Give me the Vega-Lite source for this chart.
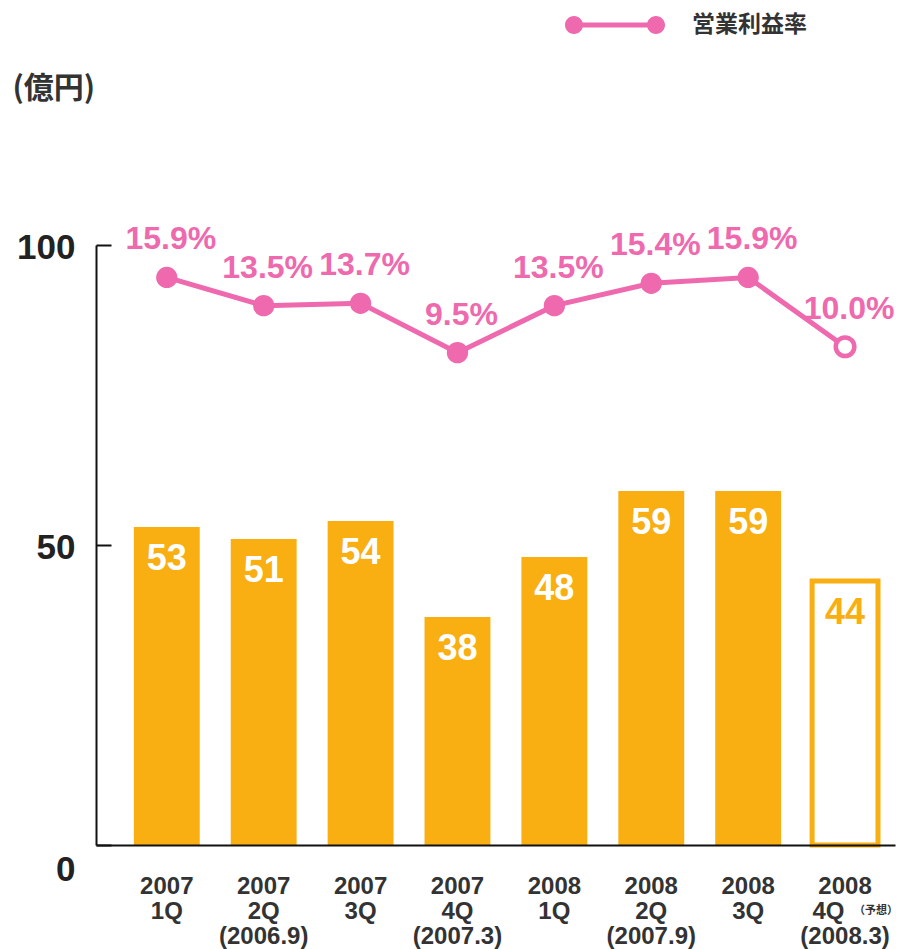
{
  "$schema": "https://vega.github.io/schema/vega-lite/v6.json",
  "autosize": {"type": "none"},
  "padding": {"left": 96, "top": 245, "right": 5, "bottom": 104},
  "width": 799,
  "height": 600,
  "background": "white",
  "config": {"view": {"stroke": null}, "font": "Liberation Sans"},
  "data": {
    "values": [
      {"q": "2007|1Q", "v": 53, "m": 0.159, "f": false},
      {"q": "2007|2Q|(2006.9)", "v": 51, "m": 0.135, "f": false},
      {"q": "2007|3Q", "v": 54, "m": 0.137, "f": false},
      {"q": "2007|4Q|(2007.3)", "v": 38, "m": 0.095, "f": false},
      {"q": "2008|1Q", "v": 48, "m": 0.135, "f": false},
      {"q": "2008|2Q|(2007.9)", "v": 59, "m": 0.154, "f": false},
      {"q": "2008|3Q", "v": 59, "m": 0.159, "f": false},
      {"q": "2008|4Q\u00a0\u00a0\u00a0\u00a0\u00a0\u200b|(2008.3)", "v": 44, "m": 0.100, "f": true}
    ]
  },
  "encoding": {
    "x": {
      "field": "q",
      "type": "nominal",
      "sort": null,
      "scale": {"paddingInner": 0.32, "paddingOuter": 0.283, "align": 0.69},
      "axis": {
        "title": null,
        "labelAngle": 0,
        "labelExpr": "split(datum.label, '|')",
        "labelFont": "Liberation Sans",
        "labelFontWeight": "bold",
        "labelFontSize": 24,
        "labelColor": "#333333",
        "labelLineHeight": 25,
        "labelBaseline": "top",
        "labelAlign": "center",
        "labelPadding": 29,
        "labelLimit": 0,
        "ticks": false,
        "domainColor": "#111111",
        "domainWidth": 2,
        "zindex": 1
      }
    }
  },
  "layer": [
    {
      "encoding": {
        "y": {
          "field": "v",
          "type": "quantitative",
          "scale": {"domain": [0, 100], "nice": false},
          "axis": {
            "values": [0, 50, 100],
            "title": "(億円)",
            "titleAngle": 0,
            "titleX": -84,
            "titleY": -157,
            "titleAlign": "left",
            "titleBaseline": "middle",
            "titleFont": "Noto Sans CJK JP",
            "titleFontSize": 30,
            "titleFontWeight": "bold",
            "titleColor": "#333333",
            "labelFont": "Liberation Sans",
            "labelFontSize": 35,
            "labelFontWeight": "bold",
            "labelColor": "#222222",
            "labelBaseline": "middle",
            "tickSize": -15,
            "tickWidth": 2,
            "tickColor": "#111111",
            "domainColor": "#111111",
            "domainWidth": 2,
            "labelPadding": 36,
            "grid": false,
            "labelOffset": {"condition": {"test": "datum.value === 0", "value": 24}, "value": 2}
          }
        }
      },
      "layer": [
        {
          "transform": [{"filter": "!datum.f"}],
          "mark": {"type": "bar", "color": "#F9AE12"}
        },
        {
          "transform": [{"filter": "datum.f"}],
          "mark": {"type": "bar", "fill": "white", "stroke": "#F9AE12", "strokeWidth": 5}
        },
        {
          "mark": {"type": "text", "baseline": "middle", "dy": 32, "fontSize": 36, "fontWeight": "bold", "font": "Liberation Sans"},
          "encoding": {
            "text": {"field": "v"},
            "color": {"condition": {"test": "datum.f", "value": "#F9AE12"}, "value": "white"}
          }
        },
        {
          "transform": [{"filter": "datum.f"}],
          "mark": {"type": "text", "text": "（予想）", "font": "Noto Sans CJK JP", "fontSize": 11, "fontWeight": "bold", "color": "#333333", "baseline": "middle", "dx": 31, "dy": 66},
          "encoding": {"y": {"datum": 0}}
        }
      ]
    },
    {
      "encoding": {
        "y": {
          "field": "m",
          "type": "quantitative",
          "scale": {"domain": [-0.324, 0.1866], "nice": false, "zero": false},
          "axis": null
        }
      },
      "layer": [
        {
          "mark": {"type": "line", "strokeWidth": 5},
          "encoding": {
            "color": {
              "datum": "営業利益率",
              "scale": {"range": ["#EE69AE"]},
              "legend": {
                "title": null,
                "orient": "none",
                "legendX": 469,
                "legendY": -270,
                "padding": 0,
                "symbolType": "M-1,0A0.18,0.18,0,1,1,-0.64,0A0.18,0.18,0,1,1,-1,0ZM0.64,0A0.18,0.18,0,1,1,1,0A0.18,0.18,0,1,1,0.64,0ZM-0.66,-0.05L0.66,-0.05L0.66,0.05L-0.66,0.05Z",
                "symbolSize": 10000,
                "symbolFillColor": "#EE69AE",
                "symbolStrokeColor": "#EE69AE",
                "symbolStrokeWidth": 0,
                "labelFont": "Noto Sans CJK JP",
                "labelFontSize": 23,
                "labelFontWeight": "bold",
                "labelColor": "#333333",
                "labelOffset": 27
              }
            }
          }
        },
        {
          "transform": [{"filter": "!datum.f"}],
          "mark": {"type": "point", "shape": "circle", "filled": true, "size": 452, "color": "#EE69AE", "opacity": 1}
        },
        {
          "transform": [{"filter": "datum.f"}],
          "mark": {"type": "point", "shape": "circle", "filled": false, "fill": "white", "stroke": "#EE69AE", "strokeWidth": 4.5, "size": 346, "opacity": 1}
        },
        {
          "mark": {"type": "text", "baseline": "middle", "dy": -38, "dx": 4, "fontSize": 32, "fontWeight": "bold", "font": "Liberation Sans", "color": "#EE69AE"},
          "encoding": {"text": {"field": "m", "format": ".1%"}}
        }
      ]
    }
  ],
  "resolve": {"scale": {"y": "independent"}}
}
